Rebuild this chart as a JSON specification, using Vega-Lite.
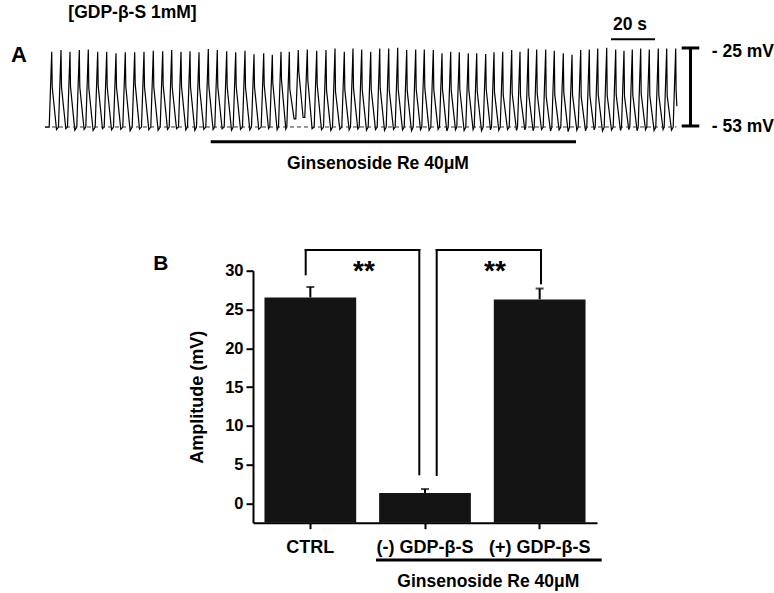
{
  "$schema": "https://vega.github.io/schema/vega-lite/v6.json",
  "width": 344,
  "height": 252,
  "autosize": {"type": "none"},
  "padding": {"left": 253, "top": 270.7, "right": 177, "bottom": 70.3},
  "background": "white",
  "config": {"view": {"stroke": null}, "font": "Liberation Sans"},
  "datasets": {
    "trace": [
      {"t":0,"v":-53.4},
      {"t":1.91,"v":-53.4},{"t":3.05,"v":-26.7},{"t":3.28,"v":-39.2},{"t":5.23,"v":-54.3},
      {"t":6.13,"v":-53.4},{"t":7.27,"v":-26.1},{"t":7.50,"v":-39.2},{"t":9.45,"v":-54.0},
      {"t":10.22,"v":-53.4},{"t":11.36,"v":-26.7},{"t":11.59,"v":-39.0},{"t":13.54,"v":-54.5},
      {"t":14.45,"v":-53.4},{"t":15.59,"v":-26.1},{"t":15.82,"v":-39.2},{"t":17.77,"v":-54.2},
      {"t":18.54,"v":-53.4},{"t":19.68,"v":-25.9},{"t":19.91,"v":-39.4},{"t":21.86,"v":-54.6},
      {"t":22.81,"v":-53.4},{"t":23.95,"v":-26.7},{"t":24.18,"v":-38.7},{"t":26.13,"v":-54.0},
      {"t":26.91,"v":-53.4},{"t":28.05,"v":-26.7},{"t":28.28,"v":-39.2},{"t":30.23,"v":-54.4},
      {"t":31.13,"v":-53.4},{"t":32.27,"v":-27.2},{"t":32.50,"v":-39.2},{"t":34.45,"v":-54.2},
      {"t":35.36,"v":-53.4},{"t":36.50,"v":-26.9},{"t":36.73,"v":-39.0},{"t":38.68,"v":-54.7},
      {"t":39.63,"v":-53.4},{"t":40.77,"v":-26.9},{"t":41.00,"v":-38.1},{"t":42.95,"v":-54.1},
      {"t":43.86,"v":-53.4},{"t":45.00,"v":-26.7},{"t":45.23,"v":-39.2},{"t":47.18,"v":-54.3},
      {"t":48.09,"v":-53.4},{"t":49.23,"v":-26.3},{"t":49.46,"v":-39.2},{"t":51.41,"v":-54.5},
      {"t":52.36,"v":-53.4},{"t":53.50,"v":-26.5},{"t":53.73,"v":-38.7},{"t":55.68,"v":-54.2},
      {"t":56.45,"v":-53.4},{"t":57.59,"v":-26.1},{"t":57.82,"v":-39.2},{"t":59.77,"v":-54.0},
      {"t":60.68,"v":-53.4},{"t":61.82,"v":-26.7},{"t":62.05,"v":-39.0},{"t":64.00,"v":-54.4},
      {"t":64.77,"v":-53.4},{"t":65.91,"v":-26.5},{"t":66.14,"v":-39.2},{"t":68.09,"v":-54.6},
      {"t":68.86,"v":-53.4},{"t":70.00,"v":-26.9},{"t":70.23,"v":-39.2},{"t":72.18,"v":-54.2},
      {"t":73.09,"v":-53.4},{"t":74.23,"v":-25.7},{"t":74.46,"v":-38.7},{"t":76.41,"v":-54.3},
      {"t":77.18,"v":-53.4},{"t":78.32,"v":-26.1},{"t":78.55,"v":-39.2},{"t":80.50,"v":-54.0},
      {"t":81.45,"v":-53.4},{"t":82.59,"v":-26.5},{"t":82.82,"v":-39.2},{"t":84.77,"v":-54.5},
      {"t":85.54,"v":-53.4},{"t":86.68,"v":-26.9},{"t":86.91,"v":-39.0},{"t":88.86,"v":-54.2},
      {"t":89.77,"v":-53.4},{"t":90.91,"v":-26.3},{"t":91.14,"v":-39.2},{"t":93.09,"v":-54.4},
      {"t":93.86,"v":-53.4},{"t":95.00,"v":-27.6},{"t":95.23,"v":-39.2},{"t":97.18,"v":-54.2},
      {"t":98.27,"v":-53.4},{"t":99.41,"v":-27.2},{"t":99.64,"v":-38.5},{"t":101.59,"v":-54.0},
      {"t":102.18,"v":-53.4},{"t":103.32,"v":-27.8},{"t":103.55,"v":-37.8},{"t":105.50,"v":-54.3},
      {"t":106.13,"v":-53.4},{"t":107.27,"v":-26.7},{"t":107.50,"v":-36.7},{"t":109.45,"v":-54.1},
      {"t":109.91,"v":-53.4},{"t":111.05,"v":-26.7},{"t":111.28,"v":-39.9},{"t":113.23,"v":-50.5},
      {"t":114.00,"v":-50.5},{"t":115.14,"v":-26.1},{"t":115.37,"v":-33.8},{"t":117.32,"v":-50.0},
      {"t":118.09,"v":-50.0},{"t":119.23,"v":-25.9},{"t":119.46,"v":-36.7},{"t":121.41,"v":-54.0},
      {"t":122.36,"v":-53.4},{"t":123.50,"v":-26.3},{"t":123.73,"v":-38.5},{"t":125.68,"v":-54.3},
      {"t":126.59,"v":-53.4},{"t":127.73,"v":-26.1},{"t":127.96,"v":-40.2},{"t":129.91,"v":-54.6},
      {"t":130.68,"v":-53.4},{"t":131.82,"v":-25.5},{"t":132.05,"v":-40.8},{"t":134.00,"v":-54.2},
      {"t":134.91,"v":-53.4},{"t":136.05,"v":-26.7},{"t":136.28,"v":-40.2},{"t":138.23,"v":-54.4},
      {"t":138.86,"v":-53.4},{"t":140.00,"v":-25.5},{"t":140.23,"v":-39.6},{"t":142.18,"v":-54.1},
      {"t":142.81,"v":-53.4},{"t":143.95,"v":-25.9},{"t":144.18,"v":-40.0},{"t":146.13,"v":-54.5},
      {"t":146.91,"v":-53.4},{"t":148.05,"v":-26.7},{"t":148.28,"v":-40.0},{"t":150.23,"v":-54.3},
      {"t":151.00,"v":-53.4},{"t":152.14,"v":-25.5},{"t":152.37,"v":-39.6},{"t":154.32,"v":-54.6},
      {"t":155.09,"v":-53.4},{"t":156.23,"v":-25.5},{"t":156.46,"v":-40.2},{"t":158.41,"v":-54.2},
      {"t":159.18,"v":-53.4},{"t":160.32,"v":-25.3},{"t":160.55,"v":-40.0},{"t":162.50,"v":-54.4},
      {"t":163.27,"v":-53.4},{"t":164.41,"v":-26.1},{"t":164.64,"v":-40.4},{"t":166.59,"v":-54.7},
      {"t":167.36,"v":-53.4},{"t":168.50,"v":-25.9},{"t":168.73,"v":-40.0},{"t":170.68,"v":-54.3},
      {"t":171.27,"v":-53.4},{"t":172.41,"v":-25.9},{"t":172.64,"v":-39.6},{"t":174.59,"v":-54.5},
      {"t":175.36,"v":-53.4},{"t":176.50,"v":-26.1},{"t":176.73,"v":-40.2},{"t":178.68,"v":-54.2},
      {"t":179.31,"v":-53.4},{"t":180.45,"v":-27.2},{"t":180.68,"v":-40.0},{"t":182.63,"v":-54.8},
      {"t":183.27,"v":-53.4},{"t":184.41,"v":-26.7},{"t":184.64,"v":-40.4},{"t":186.59,"v":-54.4},
      {"t":187.18,"v":-53.4},{"t":188.32,"v":-26.9},{"t":188.55,"v":-40.0},{"t":190.50,"v":-54.6},
      {"t":191.27,"v":-53.4},{"t":192.41,"v":-27.2},{"t":192.64,"v":-40.2},{"t":194.59,"v":-54.3},
      {"t":195.09,"v":-53.4},{"t":196.23,"v":-27.2},{"t":196.46,"v":-40.6},{"t":198.41,"v":-54.7},
      {"t":199.18,"v":-53.4},{"t":200.32,"v":-27.5},{"t":200.55,"v":-40.0},{"t":202.50,"v":-54.4},
      {"t":202.95,"v":-53.4},{"t":204.09,"v":-26.9},{"t":204.32,"v":-41.0},{"t":206.27,"v":-54.5},
      {"t":206.91,"v":-53.4},{"t":208.05,"v":-26.7},{"t":208.28,"v":-42.0},{"t":210.23,"v":-54.3},
      {"t":211.00,"v":-53.4},{"t":212.14,"v":-26.1},{"t":212.37,"v":-41.5},{"t":214.32,"v":-54.6},
      {"t":214.77,"v":-53.4},{"t":215.91,"v":-26.7},{"t":216.14,"v":-42.4},{"t":218.09,"v":-54.4},
      {"t":218.54,"v":-53.4},{"t":219.68,"v":-25.5},{"t":219.91,"v":-42.0},{"t":221.86,"v":-54.7},
      {"t":222.36,"v":-53.4},{"t":223.50,"v":-25.9},{"t":223.73,"v":-41.6},{"t":225.68,"v":-54.3},
      {"t":226.45,"v":-53.4},{"t":227.59,"v":-25.9},{"t":227.82,"v":-42.6},{"t":229.77,"v":-54.8},
      {"t":230.36,"v":-53.4},{"t":231.50,"v":-26.3},{"t":231.73,"v":-42.0},{"t":233.68,"v":-54.4},
      {"t":234.45,"v":-53.4},{"t":235.59,"v":-27.2},{"t":235.82,"v":-41.2},{"t":237.77,"v":-55.0},
      {"t":238.41,"v":-53.4},{"t":239.55,"v":-27.8},{"t":239.78,"v":-42.0},{"t":241.73,"v":-54.5},
      {"t":242.36,"v":-53.4},{"t":243.50,"v":-26.1},{"t":243.73,"v":-42.6},{"t":245.68,"v":-54.7},
      {"t":246.27,"v":-53.4},{"t":247.41,"v":-25.9},{"t":247.64,"v":-42.0},{"t":249.59,"v":-54.4},
      {"t":250.09,"v":-53.4},{"t":251.23,"v":-25.5},{"t":251.46,"v":-41.8},{"t":253.41,"v":-54.8},
      {"t":254.18,"v":-53.4},{"t":255.32,"v":-25.3},{"t":255.55,"v":-42.2},{"t":257.50,"v":-54.5},
      {"t":258.27,"v":-53.4},{"t":259.41,"v":-25.9},{"t":259.64,"v":-42.0},{"t":261.59,"v":-54.6},
      {"t":262.04,"v":-53.4},{"t":263.18,"v":-26.3},{"t":263.41,"v":-42.6},{"t":265.36,"v":-54.3},
      {"t":265.81,"v":-53.4},{"t":266.95,"v":-25.9},{"t":267.18,"v":-42.0},{"t":269.13,"v":-54.7},
      {"t":269.63,"v":-53.4},{"t":270.77,"v":-25.5},{"t":271.00,"v":-41.6},{"t":272.95,"v":-54.4},
      {"t":273.54,"v":-53.4},{"t":274.68,"v":-25.9},{"t":274.91,"v":-42.2},{"t":276.86,"v":-54.6},
      {"t":277.63,"v":-53.4},{"t":278.77,"v":-25.5},{"t":279.00,"v":-42.0},{"t":280.95,"v":-54.3},
      {"t":281.45,"v":-53.4},{"t":282.59,"v":-25.5},{"t":282.82,"v":-42.4},{"t":284.77,"v":-54.5},
      {"t":285.54,"v":-53.4},{"t":286.68,"v":-25.5},{"t":286.86,"v":-40.0},{"t":287.20,"v":-46.0}
    ],
    "bars": [
      {"cond": "CTRL", "mean": 26.55, "upper": 27.9},
      {"cond": "(-) GDP-β-S", "mean": 1.33, "upper": 1.84},
      {"cond": "(+) GDP-β-S", "mean": 26.3, "upper": 27.7}
    ],
    "brackets": [
      {"u": 0.4596, "u2": 0.4596, "v": 32.67, "v2": 29.53},
      {"u": 0.4596, "u2": 1.4503, "v": 32.67, "v2": 32.67},
      {"u": 1.4503, "u2": 1.4503, "v": 32.67, "v2": 3.74},
      {"u": 1.602, "u2": 1.602, "v": 32.67, "v2": 3.65},
      {"u": 1.602, "u2": 2.5116, "v": 32.67, "v2": 32.67},
      {"u": 2.5116, "u2": 2.5116, "v": 32.67, "v2": 28.37}
    ],
    "one": [{}]
  },
  "layer": [
    {
      "data": {"name": "trace"},
      "mark": {"type": "line", "color": "#000000", "strokeWidth": 1.2},
      "encoding": {
        "x": {"field": "t", "type": "quantitative", "scale": {"domain": [94.545, 250.909], "nice": false, "zero": false}, "axis": null},
        "y": {"field": "v", "type": "quantitative", "scale": {"domain": [-193.69, -104.33], "nice": false, "zero": false}, "axis": null}
      }
    },
    {
      "data": {"name": "one"},
      "mark": {"type": "rule", "color": "#333333", "strokeWidth": 1, "strokeDash": [4, 3]},
      "encoding": {
        "x": {"datum": 0, "type": "quantitative", "scale": {"domain": [94.545, 250.909], "nice": false, "zero": false}, "axis": null},
        "x2": {"datum": 287},
        "y": {"datum": -53.37, "type": "quantitative", "scale": {"domain": [-193.69, -104.33], "nice": false, "zero": false}, "axis": null}
      }
    },
    {
      "data": {"name": "one"},
      "mark": {"type": "rule", "color": "#000000", "strokeWidth": 2},
      "encoding": {
        "x": {"datum": 257.27, "type": "quantitative", "scale": {"domain": [94.545, 250.909], "nice": false, "zero": false}, "axis": null},
        "x2": {"datum": 277.27},
        "y": {"datum": -22.27, "type": "quantitative", "scale": {"domain": [-193.69, -104.33], "nice": false, "zero": false}, "axis": null}
      }
    },
    {
      "data": {"name": "one"},
      "mark": {"type": "rule", "color": "#000000", "strokeWidth": 3},
      "encoding": {
        "x": {"datum": 293.41, "type": "quantitative", "scale": {"domain": [94.545, 250.909], "nice": false, "zero": false}, "axis": null},
        "y": {"datum": -25.35, "type": "quantitative", "scale": {"domain": [-193.69, -104.33], "nice": false, "zero": false}, "axis": null},
        "y2": {"datum": -53.01}
      }
    },
    {
      "data": {"name": "one"},
      "mark": {"type": "rule", "color": "#000000", "strokeWidth": 3},
      "encoding": {
        "x": {"datum": 289.41, "type": "quantitative", "scale": {"domain": [94.545, 250.909], "nice": false, "zero": false}, "axis": null},
        "x2": {"datum": 297.41},
        "y": {"datum": -25.35, "type": "quantitative", "scale": {"domain": [-193.69, -104.33], "nice": false, "zero": false}, "axis": null}
      }
    },
    {
      "data": {"name": "one"},
      "mark": {"type": "rule", "color": "#000000", "strokeWidth": 3},
      "encoding": {
        "x": {"datum": 289.41, "type": "quantitative", "scale": {"domain": [94.545, 250.909], "nice": false, "zero": false}, "axis": null},
        "x2": {"datum": 297.41},
        "y": {"datum": -53.01, "type": "quantitative", "scale": {"domain": [-193.69, -104.33], "nice": false, "zero": false}, "axis": null}
      }
    },
    {
      "data": {"name": "one"},
      "mark": {"type": "rule", "color": "#000000", "strokeWidth": 3},
      "encoding": {
        "x": {"datum": 75.32, "type": "quantitative", "scale": {"domain": [94.545, 250.909], "nice": false, "zero": false}, "axis": null},
        "x2": {"datum": 241.36},
        "y": {"datum": -58.58, "type": "quantitative", "scale": {"domain": [-193.69, -104.33], "nice": false, "zero": false}, "axis": null}
      }
    },
    {
      "data": {"name": "one"},
      "mark": {"type": "text", "text": "A", "align": "left", "baseline": "alphabetic", "fontSize": 22, "fontWeight": "bold", "font": "Liberation Sans", "color": "#000000"},
      "encoding": {
        "x": {"datum": -15.45, "type": "quantitative", "scale": {"domain": [94.545, 250.909], "nice": false, "zero": false}, "axis": null},
        "y": {"datum": -30.21, "type": "quantitative", "scale": {"domain": [-193.69, -104.33], "nice": false, "zero": false}, "axis": null}
      }
    },
    {
      "data": {"name": "one"},
      "mark": {"type": "text", "text": "[GDP-β-S 1mM]", "align": "center", "baseline": "alphabetic", "fontSize": 17.5, "fontWeight": "bold", "font": "Liberation Sans", "color": "#000000"},
      "encoding": {
        "x": {"datum": 39.77, "type": "quantitative", "scale": {"domain": [94.545, 250.909], "nice": false, "zero": false}, "axis": null},
        "y": {"datum": -14.8, "type": "quantitative", "scale": {"domain": [-193.69, -104.33], "nice": false, "zero": false}, "axis": null}
      }
    },
    {
      "data": {"name": "one"},
      "mark": {"type": "text", "text": "20 s", "align": "center", "baseline": "alphabetic", "fontSize": 17.5, "fontWeight": "bold", "font": "Liberation Sans", "color": "#000000"},
      "encoding": {
        "x": {"datum": 265.91, "type": "quantitative", "scale": {"domain": [94.545, 250.909], "nice": false, "zero": false}, "axis": null},
        "y": {"datum": -18.97, "type": "quantitative", "scale": {"domain": [-193.69, -104.33], "nice": false, "zero": false}, "axis": null}
      }
    },
    {
      "data": {"name": "one"},
      "mark": {"type": "text", "text": "- 25 mV", "align": "left", "baseline": "alphabetic", "fontSize": 17.5, "fontWeight": "bold", "font": "Liberation Sans", "color": "#000000"},
      "encoding": {
        "x": {"datum": 303.05, "type": "quantitative", "scale": {"domain": [94.545, 250.909], "nice": false, "zero": false}, "axis": null},
        "y": {"datum": -28.44, "type": "quantitative", "scale": {"domain": [-193.69, -104.33], "nice": false, "zero": false}, "axis": null}
      }
    },
    {
      "data": {"name": "one"},
      "mark": {"type": "text", "text": "- 53 mV", "align": "left", "baseline": "alphabetic", "fontSize": 17.5, "fontWeight": "bold", "font": "Liberation Sans", "color": "#000000"},
      "encoding": {
        "x": {"datum": 303.05, "type": "quantitative", "scale": {"domain": [94.545, 250.909], "nice": false, "zero": false}, "axis": null},
        "y": {"datum": -55.25, "type": "quantitative", "scale": {"domain": [-193.69, -104.33], "nice": false, "zero": false}, "axis": null}
      }
    },
    {
      "data": {"name": "one"},
      "mark": {"type": "text", "text": "Ginsenoside Re 40μM", "align": "center", "baseline": "alphabetic", "fontSize": 17.5, "fontWeight": "bold", "font": "Liberation Sans", "color": "#000000"},
      "encoding": {
        "x": {"datum": 151.36, "type": "quantitative", "scale": {"domain": [94.545, 250.909], "nice": false, "zero": false}, "axis": null},
        "y": {"datum": -68.37, "type": "quantitative", "scale": {"domain": [-193.69, -104.33], "nice": false, "zero": false}, "axis": null}
      }
    },
    {
      "data": {"name": "bars"},
      "mark": {"type": "bar", "color": "#141414"},
      "encoding": {
        "x": {
          "field": "cond", "type": "nominal", "sort": null,
          "scale": {"paddingInner": 0.2, "paddingOuter": 0.1},
          "axis": {
            "orient": "bottom", "title": null, "labelAngle": 0,
            "labelFont": "Liberation Sans", "labelFontSize": 18, "labelFontWeight": "bold", "labelColor": "#000000",
            "labelPadding": 10, "labelDx": 3,
            "tickSize": 6, "tickWidth": 2, "tickColor": "#000000",
            "domainWidth": 2, "domainColor": "#000000", "grid": false
          }
        },
        "y": {
          "field": "mean", "type": "quantitative",
          "scale": {"domain": [-2.5, 30], "nice": false, "zero": false},
          "axis": {
            "orient": "left", "values": [0, 5, 10, 15, 20, 25, 30],
            "title": "Amplitude (mV)", "titleFont": "Liberation Sans", "titleFontSize": 18, "titleFontWeight": "bold", "titleColor": "#000000", "titlePadding": 18,
            "labelFont": "Liberation Sans", "labelFontSize": 16.5, "labelFontWeight": "bold", "labelColor": "#000000", "labelPadding": 3,
            "tickSize": 7, "tickWidth": 2, "tickColor": "#000000",
            "domainWidth": 2, "domainColor": "#000000", "grid": false
          }
        },
        "y2": {"datum": -2.5}
      }
    },
    {
      "data": {"name": "bars"},
      "mark": {"type": "rule", "color": "#000000", "strokeWidth": 2},
      "encoding": {
        "x": {"field": "cond", "type": "nominal", "sort": null, "scale": {"paddingInner": 0.2, "paddingOuter": 0.1}, "axis": null},
        "y": {"field": "mean", "type": "quantitative", "scale": {"domain": [-2.5, 30], "nice": false, "zero": false}, "axis": null},
        "y2": {"field": "upper"}
      }
    },
    {
      "data": {"name": "bars"},
      "mark": {"type": "tick", "color": "#000000", "size": 8, "thickness": 2},
      "encoding": {
        "x": {"field": "cond", "type": "nominal", "sort": null, "scale": {"paddingInner": 0.2, "paddingOuter": 0.1}, "axis": null},
        "y": {"field": "upper", "type": "quantitative", "scale": {"domain": [-2.5, 30], "nice": false, "zero": false}, "axis": null}
      }
    },
    {
      "data": {"name": "brackets"},
      "mark": {"type": "rule", "color": "#000000", "strokeWidth": 2, "strokeCap": "square"},
      "encoding": {
        "x": {"field": "u", "type": "quantitative", "scale": {"domain": [0, 3], "nice": false, "zero": false}, "axis": null},
        "x2": {"field": "u2"},
        "y": {"field": "v", "type": "quantitative", "scale": {"domain": [-2.5, 30], "nice": false, "zero": false}, "axis": null},
        "y2": {"field": "v2"}
      }
    },
    {
      "data": {"name": "one"},
      "mark": {"type": "text", "text": "**", "align": "center", "baseline": "alphabetic", "fontSize": 28, "fontWeight": "bold", "font": "Liberation Sans", "color": "#000000"},
      "encoding": {
        "x": {"datum": 0.968, "type": "quantitative", "scale": {"domain": [0, 3], "nice": false, "zero": false}, "axis": null},
        "y": {"datum": 28.8, "type": "quantitative", "scale": {"domain": [-2.5, 30], "nice": false, "zero": false}, "axis": null}
      }
    },
    {
      "data": {"name": "one"},
      "mark": {"type": "text", "text": "**", "align": "center", "baseline": "alphabetic", "fontSize": 28, "fontWeight": "bold", "font": "Liberation Sans", "color": "#000000"},
      "encoding": {
        "x": {"datum": 2.11, "type": "quantitative", "scale": {"domain": [0, 3], "nice": false, "zero": false}, "axis": null},
        "y": {"datum": 28.8, "type": "quantitative", "scale": {"domain": [-2.5, 30], "nice": false, "zero": false}, "axis": null}
      }
    },
    {
      "data": {"name": "one"},
      "mark": {"type": "text", "text": "B", "align": "left", "baseline": "alphabetic", "fontSize": 21, "fontWeight": "bold", "font": "Liberation Sans", "color": "#000000"},
      "encoding": {
        "x": {"datum": -0.8695, "type": "quantitative", "scale": {"domain": [0, 3], "nice": false, "zero": false}, "axis": null},
        "y": {"datum": 30.09, "type": "quantitative", "scale": {"domain": [-2.5, 30], "nice": false, "zero": false}, "axis": null}
      }
    },
    {
      "data": {"name": "one"},
      "mark": {"type": "rule", "color": "#000000", "strokeWidth": 3},
      "encoding": {
        "x": {"datum": 1.0727, "type": "quantitative", "scale": {"domain": [0, 3], "nice": false, "zero": false}, "axis": null},
        "x2": {"datum": 3.041},
        "y": {"datum": -7.31, "type": "quantitative", "scale": {"domain": [-2.5, 30], "nice": false, "zero": false}, "axis": null}
      }
    },
    {
      "data": {"name": "one"},
      "mark": {"type": "text", "text": "Ginsenoside Re 40μM", "align": "center", "baseline": "alphabetic", "fontSize": 17.5, "fontWeight": "bold", "font": "Liberation Sans", "color": "#000000"},
      "encoding": {
        "x": {"datum": 2.052, "type": "quantitative", "scale": {"domain": [0, 3], "nice": false, "zero": false}, "axis": null},
        "y": {"datum": -10.75, "type": "quantitative", "scale": {"domain": [-2.5, 30], "nice": false, "zero": false}, "axis": null}
      }
    }
  ],
  "resolve": {"scale": {"x": "independent", "y": "independent"}, "axis": {"x": "independent", "y": "independent"}}
}
